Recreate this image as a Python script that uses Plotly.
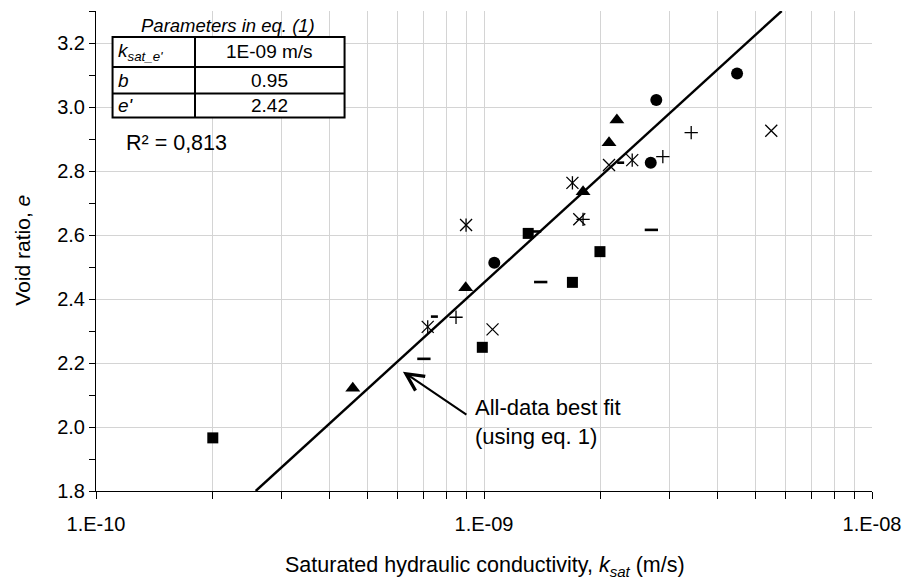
import plotly.graph_objects as go

# ---------------- data ----------------
sq_k = [2.0e-10, 9.9e-10, 1.30e-9, 1.69e-9, 1.99e-9]
sq_e = [1.966, 2.249, 2.605, 2.452, 2.548]

tri_k = [4.59e-10, 8.97e-10, 1.80e-9, 2.10e-9, 2.20e-9]
tri_e = [2.121, 2.435, 2.735, 2.888, 2.959]

circ_k = [1.063e-9, 2.78e-9, 2.69e-9, 4.49e-9]
circ_e = [2.513, 3.022, 2.826, 3.105]

dash_k = [7.0e-10, 1.35e-9, 1.40e-9, 2.70e-9]
dash_e = [2.213, 2.611, 2.453, 2.616]

sdash_k = [7.45e-10, 2.25e-9]
sdash_e = [2.345, 2.826]

plus_k = [8.47e-10, 1.80e-9, 2.89e-9, 3.42e-9]
plus_e = [2.343, 2.649, 2.845, 2.920]

x_k = [1.052e-9, 1.76e-9, 2.10e-9, 5.50e-9]
x_e = [2.305, 2.649, 2.819, 2.926]

star_k = [7.16e-10, 8.99e-10, 1.69e-9, 2.41e-9]
star_e = [2.313, 2.631, 2.763, 2.834]

fit_k = [2.58e-10, 5.85e-9]
fit_e = [1.8, 3.3]

x_tickvals = [1e-10, 1e-9, 1e-8]
x_ticktext = ["1.E-10", "1.E-09", "1.E-08"]
x_minor = [m * 10.0**d for d in (-10, -9) for m in range(2, 10)] + [1e-9]
y_tickvals = [1.8, 2.0, 2.2, 2.4, 2.6, 2.8, 3.0, 3.2]
y_ticktext = ["1.8", "2.0", "2.2", "2.4", "2.6", "2.8", "3.0", "3.2"]
y_minor = [1.9, 2.1, 2.3, 2.5, 2.7, 2.9, 3.1, 3.3]

table_rows = [("<i>k</i><sub><i>sat_e'</i></sub>", "1E-09 m/s"),
              ("<i>b</i>", "0.95"),
              ("<i>e'</i>", "2.42")]
table_title = "<i>Parameters in eq. (1)</i>"
r2_text = "R² = 0,813"
fit_label = "All-data best fit<br>(using eq. 1)"

# ---------------- layout geometry ----------------
W, H = 912, 581
L, R, T, B = 95.7, 874.0, 10.7, 491.0
FONT = "Liberation Sans, Arial, sans-serif"


def px(xp):
    return (xp - L) / (R - L)


def py(yp):
    return (B - yp) / (B - T)


fig = go.Figure()

fig.add_trace(go.Scatter(x=fit_k, y=fit_e, mode="lines",
                         line=dict(color="black", width=2.4),
                         hoverinfo="skip", showlegend=False))

mk_line = dict(color="black", width=1.3)
fig.add_trace(go.Scatter(x=sq_k, y=sq_e, mode="markers", showlegend=False,
                         marker=dict(symbol="square", size=11, color="black")))
fig.add_trace(go.Scatter(x=tri_k, y=tri_e, mode="markers", showlegend=False,
                         marker=dict(symbol="triangle-up", size=13, color="black")))
fig.add_trace(go.Scatter(x=circ_k, y=circ_e, mode="markers", showlegend=False,
                         marker=dict(symbol="circle", size=12, color="black")))
fig.add_trace(go.Scatter(x=dash_k, y=dash_e, mode="markers", showlegend=False,
                         marker=dict(symbol="line-ew", size=9.5, color="black",
                                     line=dict(color="black", width=2.6))))
fig.add_trace(go.Scatter(x=sdash_k, y=sdash_e, mode="markers", showlegend=False,
                         marker=dict(symbol="line-ew", size=5, color="black",
                                     line=dict(color="black", width=2.6))))
fig.add_trace(go.Scatter(x=plus_k, y=plus_e, mode="markers", showlegend=False,
                         marker=dict(symbol="cross-thin", size=9.5, color="black",
                                     line=mk_line)))
fig.add_trace(go.Scatter(x=x_k, y=x_e, mode="markers", showlegend=False,
                         marker=dict(symbol="x-thin", size=12, color="black",
                                     line=mk_line)))
fig.add_trace(go.Scatter(x=star_k, y=star_e, mode="markers", showlegend=False,
                         marker=dict(symbol="x-thin", size=12, color="black",
                                     line=mk_line)))
fig.add_trace(go.Scatter(x=star_k, y=star_e, mode="markers", showlegend=False,
                         marker=dict(symbol="line-ns", size=9.5, color="black",
                                     line=mk_line)))

GRID = "#d4d4d4"
fig.update_xaxes(type="log", range=[-10, -8], tickvals=x_tickvals, ticktext=x_ticktext,
                 ticks="outside", ticklen=7, tickcolor="black", tickwidth=1,
                 showline=True, linecolor="black", linewidth=1, showgrid=False,
                 zeroline=False, ticklabelstandoff=8,
                 tickfont=dict(family=FONT, size=20, color="black"),
                 minor=dict(tickvals=x_minor, ticks="outside", ticklen=7,
                            tickcolor="black", tickwidth=1, showgrid=True,
                            gridcolor=GRID, gridwidth=1))
fig.update_yaxes(range=[1.8, 3.3], tickvals=y_tickvals, ticktext=y_ticktext,
                 ticks="outside", ticklen=6, tickcolor="black", tickwidth=1,
                 showline=True, linecolor="black", linewidth=1, showgrid=True,
                 gridcolor=GRID, gridwidth=1, zeroline=False,
                 tickfont=dict(family=FONT, size=20, color="black"),
                 minor=dict(tickvals=y_minor, ticks="outside", ticklen=6,
                            tickcolor="black", tickwidth=1, showgrid=False))

shapes = []
# table box
tx0, tx1, tmid = 112.3, 345.0, 195.0
ty = [36.7, 66.7, 93.3, 117.3]
shapes.append(dict(type="rect", xref="paper", yref="paper",
                   x0=px(tx0), x1=px(tx1), y0=py(ty[3]), y1=py(ty[0]),
                   line=dict(color="black", width=2), fillcolor="white", layer="above"))
for yy in ty[1:3]:
    shapes.append(dict(type="line", xref="paper", yref="paper",
                       x0=px(tx0), x1=px(tx1), y0=py(yy), y1=py(yy),
                       line=dict(color="black", width=2), layer="above"))
shapes.append(dict(type="line", xref="paper", yref="paper",
                   x0=px(tmid), x1=px(tmid), y0=py(ty[3]), y1=py(ty[0]),
                   line=dict(color="black", width=2), layer="above"))


def ann(text, xp, yp, size, xanchor="center", **kw):
    return dict(text=text, xref="paper", yref="paper", x=px(xp), y=py(yp),
                xanchor=xanchor, yanchor="middle", showarrow=False,
                font=dict(family=FONT, size=size, color="black"), **kw)


annotations = []
annotations.append(ann(table_title, 228.5, 25.5, 18.5))
for i, (lab, val) in enumerate(table_rows):
    yc = (ty[i] + ty[i + 1]) / 2
    annotations.append(ann(lab, 115.5, yc, 19, xanchor="left"))
    annotations.append(ann(val, (tmid + tx1) / 2, yc, 19))
annotations.append(ann(r2_text, 124, 143, 21.5, xanchor="left"))
# arrow
annotations.append(dict(text="", x=-9.209, y=2.173, xref="x", yref="y",
                        ax=65, ay=44, showarrow=True, arrowhead=5, arrowsize=1.7,
                        arrowwidth=2, arrowcolor="black"))
annotations.append(ann(fit_label, 474, 422, 22, xanchor="left", align="left"))
# axis titles
annotations.append(ann("Saturated hydraulic conductivity, <i>k</i><sub><i>sat</i></sub> (m/s)",
                       486, 567, 21.5))
annotations.append(ann("Void ratio, <i>e</i>", 22, 250, 21, textangle=-90))

fig.update_layout(width=W, height=H, autosize=False,
                  margin=dict(l=L, r=W - R, t=T, b=H - B, pad=0),
                  paper_bgcolor="white", plot_bgcolor="white",
                  showlegend=False, shapes=shapes, annotations=annotations,
                  font=dict(family=FONT, color="black"))

fig.write_html("out.html", config={"displayModeBar": False},
               post_script="document.body.style.margin='0';document.body.style.padding='0';")
